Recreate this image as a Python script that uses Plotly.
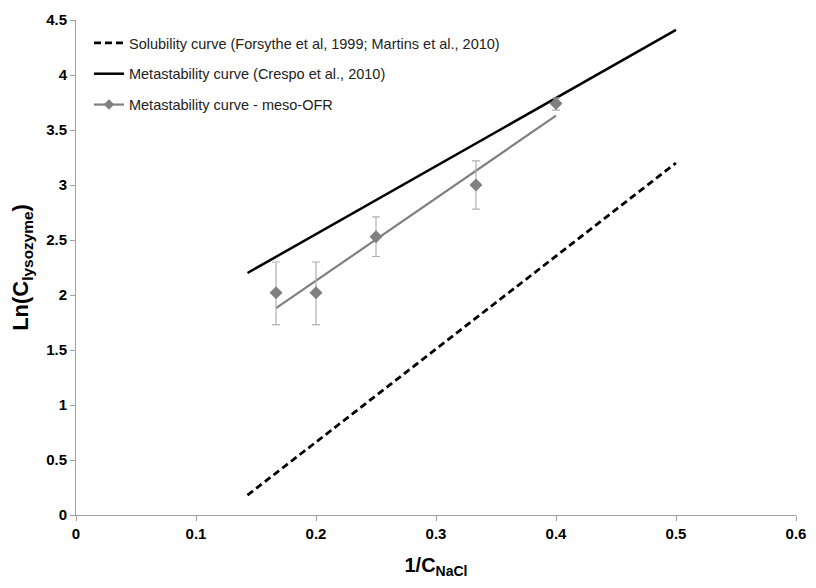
import plotly.graph_objects as go

# Solubility curve (Forsythe et al, 1999; Martins et al., 2010)
sol_x = [0.1429, 0.5]
sol_y = [0.18, 3.20]

# Metastability curve (Crespo et al., 2010)
meta_x = [0.1429, 0.5]
meta_y = [2.20, 4.41]

# Metastability curve - meso-OFR (experimental points)
ofr_x = [0.1667, 0.2, 0.25, 0.3333, 0.4]
ofr_y = [2.02, 2.02, 2.53, 3.00, 3.74]
ofr_err_plus = [0.28, 0.28, 0.18, 0.22, 0.05]
ofr_err_minus = [0.29, 0.29, 0.18, 0.22, 0.06]

# Linear fit through the meso-OFR points
fit_x = [0.1667, 0.4]
fit_y = [1.88, 3.63]

# Tick labels
x_tickvals = [0, 0.1, 0.2, 0.3, 0.4, 0.5, 0.6]
x_ticktext = ["0", "0.1", "0.2", "0.3", "0.4", "0.5", "0.6"]
y_tickvals = [0, 0.5, 1, 1.5, 2, 2.5, 3, 3.5, 4, 4.5]
y_ticktext = ["0", "0.5", "1", "1.5", "2", "2.5", "3", "3.5", "4", "4.5"]

FONT = "Arial, Liberation Sans, sans-serif"
GRAY = "#808080"

fig = go.Figure()

fig.add_trace(go.Scatter(
    x=sol_x, y=sol_y, mode="lines",
    name="Solubility curve (Forsythe et al, 1999; Martins et al., 2010)",
    line=dict(color="black", width=2.8, dash="7px,4px"),
    legendgroup="a",
))
fig.add_trace(go.Scatter(
    x=meta_x, y=meta_y, mode="lines",
    name="Metastability curve (Crespo et al., 2010)",
    line=dict(color="black", width=2.5),
    legendgroup="b",
))
fig.add_trace(go.Scatter(
    x=fit_x, y=fit_y, mode="lines",
    line=dict(color=GRAY, width=2.2),
    showlegend=False, hoverinfo="skip",
))
fig.add_trace(go.Scatter(
    x=ofr_x, y=ofr_y, mode="markers",
    marker=dict(symbol="diamond", color=GRAY, size=10),
    error_y=dict(type="data", symmetric=False, array=ofr_err_plus,
                 arrayminus=ofr_err_minus, color="#b0b0b0", thickness=1.2, width=4),
    showlegend=False,
))
fig.add_trace(go.Scatter(
    x=[None], y=[None], mode="lines+markers",
    name="Metastability curve - meso-OFR",
    line=dict(color=GRAY, width=2.2),
    marker=dict(symbol="diamond", color=GRAY, size=8),
    legendgroup="c",
))

axis_common = dict(
    showgrid=False, zeroline=False, showline=True, linecolor="#a0a0a0", linewidth=1,
    ticks="outside", ticklen=5, tickcolor="#a0a0a0", automargin=False,
    tickfont=dict(family=FONT, size=15, color="black"),
)

# The page body has an 8px margin, so the figure is sized to fit inside the window.
fig.update_layout(
    width=800, height=572,
    margin=dict(l=68, r=12, t=12, b=65),
    paper_bgcolor="white", plot_bgcolor="white",
    font=dict(family=FONT, color="black"),
    xaxis=dict(range=[0, 0.6], tickmode="array", tickvals=x_tickvals,
               ticktext=["<b>%s</b>" % t for t in x_ticktext],
               title=dict(text="<b>1/C<sub>NaCl</sub></b>", font=dict(family=FONT, size=20), standoff=16),
               **axis_common),
    yaxis=dict(range=[0, 4.5], tickmode="array", tickvals=y_tickvals,
               ticktext=["<b>%s</b>" % t for t in y_ticktext],
               title=dict(text="<b>Ln(C<sub>lysozyme</sub>)</b>", font=dict(family=FONT, size=22), standoff=24),
               **axis_common),
    legend=dict(x=0.018, y=0.986, xanchor="left", yanchor="top",
                font=dict(family=FONT, size=14.5, color="#222222"),
                bgcolor="rgba(0,0,0,0)", tracegroupgap=9, itemwidth=30),
    showlegend=True,
)

fig.write_html("out.html")
